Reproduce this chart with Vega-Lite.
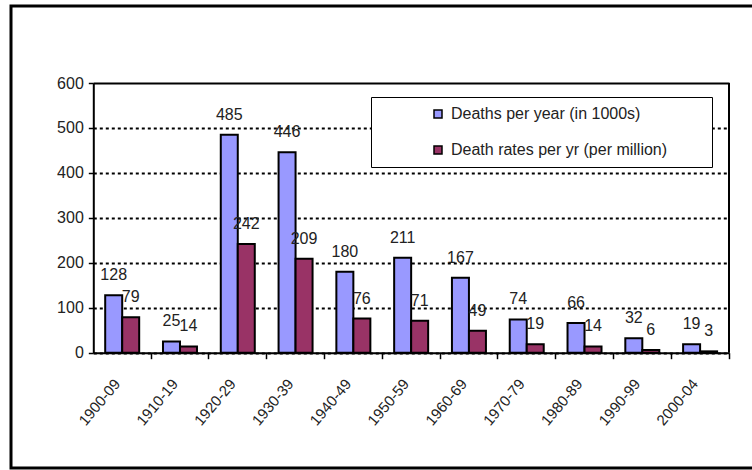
{
  "$schema": "https://vega.github.io/schema/vega-lite/v6.json",
  "width": 750,
  "height": 462,
  "autosize": {"type": "none"},
  "padding": {"left": 11, "top": 6, "right": 0, "bottom": 2},
  "background": "white",
  "config": {
    "font": "Liberation Sans",
    "view": {"stroke": "black", "strokeWidth": 3},
    "axis": {
      "labelFont": "Liberation Sans",
      "labelFontSize": 16,
      "labelColor": "#222222",
      "domainColor": "black",
      "domainWidth": 2,
      "tickColor": "black",
      "tickWidth": 1.5
    },
    "legend": {"labelFont": "Liberation Sans"}
  },
  "datasets": {
    "bars": [
      {"period": "1900-09", "series": "Deaths per year (in 1000s)", "value": 128},
      {"period": "1900-09", "series": "Death rates per yr (per million)", "value": 79},
      {"period": "1910-19", "series": "Deaths per year (in 1000s)", "value": 25},
      {"period": "1910-19", "series": "Death rates per yr (per million)", "value": 14},
      {"period": "1920-29", "series": "Deaths per year (in 1000s)", "value": 485},
      {"period": "1920-29", "series": "Death rates per yr (per million)", "value": 242},
      {"period": "1930-39", "series": "Deaths per year (in 1000s)", "value": 446},
      {"period": "1930-39", "series": "Death rates per yr (per million)", "value": 209},
      {"period": "1940-49", "series": "Deaths per year (in 1000s)", "value": 180},
      {"period": "1940-49", "series": "Death rates per yr (per million)", "value": 76},
      {"period": "1950-59", "series": "Deaths per year (in 1000s)", "value": 211},
      {"period": "1950-59", "series": "Death rates per yr (per million)", "value": 71},
      {"period": "1960-69", "series": "Deaths per year (in 1000s)", "value": 167},
      {"period": "1960-69", "series": "Death rates per yr (per million)", "value": 49},
      {"period": "1970-79", "series": "Deaths per year (in 1000s)", "value": 74},
      {"period": "1970-79", "series": "Death rates per yr (per million)", "value": 19},
      {"period": "1980-89", "series": "Deaths per year (in 1000s)", "value": 66},
      {"period": "1980-89", "series": "Death rates per yr (per million)", "value": 14},
      {"period": "1990-99", "series": "Deaths per year (in 1000s)", "value": 32},
      {"period": "1990-99", "series": "Death rates per yr (per million)", "value": 6},
      {"period": "2000-04", "series": "Deaths per year (in 1000s)", "value": 19},
      {"period": "2000-04", "series": "Death rates per yr (per million)", "value": 3}
    ],
    "frame": [
      {"period": "2000-04", "low": 0, "high": 600}
    ]
  },
  "data": {"name": "bars"},
  "resolve": {"axis": {"x": "independent", "y": "independent"}},
  "layer": [
    {
      "mark": {"type": "bar", "stroke": "black", "strokeWidth": 2},
      "encoding": {
        "x": {
          "field": "period",
          "type": "nominal",
          "sort": null,
          "scale": {"range": [82.3, 718], "paddingInner": 0, "paddingOuter": 0},
          "axis": {
            "title": null,
            "orient": "bottom",
            "bandPosition": 1,
            "labelOffset": -5,
            "labelAngle": -50,
            "labelAlign": "right",
            "labelBaseline": "middle",
            "labelFontSize": 15,
            "tickSize": 6,
            "labelPadding": 22,
            "offset": -115.3,
            "grid": false
          }
        },
        "y": {
          "field": "value",
          "type": "quantitative",
          "scale": {"domain": [0, 600], "range": [346.7, 77], "nice": false},
          "axis": {
            "title": null,
            "orient": "left",
            "values": [0, 100, 200, 300, 400, 500, 600],
            "offset": -82.3,
            "tickSize": 5,
            "labelPadding": 5,
            "grid": true,
            "gridColor": "black",
            "gridWidth": 2,
            "gridDash": {"condition": {"test": "datum.value === 600", "value": []}, "value": [3, 3]}
          }
        },
        "xOffset": {
          "field": "series",
          "type": "nominal",
          "sort": ["Deaths per year (in 1000s)", "Death rates per yr (per million)"],
          "scale": {"paddingOuter": 0.7, "paddingInner": 0}
        },
        "color": {
          "field": "series",
          "type": "nominal",
          "sort": ["Deaths per year (in 1000s)", "Death rates per yr (per million)"],
          "scale": {"range": ["#9999FF", "#993366"]},
          "legend": {
            "title": null,
            "orient": "none",
            "legendX": 360,
            "legendY": 91,
            "direction": "vertical",
            "fillColor": "white",
            "strokeColor": "black",
            "padding": 9,
            "symbolType": "square",
            "symbolSize": 64,
            "symbolStrokeColor": "black",
            "symbolOffset": 50,
            "labelOffset": 5,
            "labelFontSize": 16,
            "labelColor": "#222222",
            "labelLimit": 400,
            "rowPadding": 20,
            "labelExpr": "datum.label + '\u00a0\u00a0\u00a0\u00a0\u00a0\u00a0\u00a0\u00a0\u200b'"
          }
        }
      }
    },
    {
      "mark": {"type": "text", "baseline": "alphabetic", "dy": -15, "fontSize": 16, "color": "#222222"},
      "encoding": {
        "x": {"field": "period", "type": "nominal", "sort": null, "axis": null},
        "y": {"field": "value", "type": "quantitative", "axis": null},
        "xOffset": {
          "field": "series",
          "type": "nominal",
          "sort": ["Deaths per year (in 1000s)", "Death rates per yr (per million)"],
          "scale": {"paddingOuter": 0.7, "paddingInner": 0}
        },
        "text": {"field": "value", "type": "quantitative"}
      }
    },
    {
      "data": {"name": "frame"},
      "mark": {"type": "rule", "color": "black", "strokeWidth": 2},
      "encoding": {
        "x": {"field": "period", "type": "nominal", "sort": null, "bandPosition": 1, "axis": null},
        "y": {"field": "low", "type": "quantitative", "axis": null},
        "y2": {"field": "high"}
      }
    }
  ]
}
